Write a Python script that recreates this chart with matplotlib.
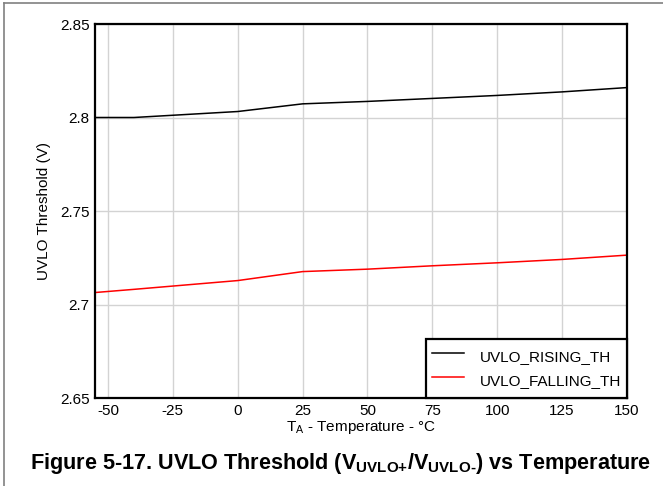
import matplotlib

matplotlib.use("Agg")

import matplotlib.pyplot as plt
from matplotlib.lines import Line2D

plt.rcParams["font.family"] = ["Liberation Sans", "DejaVu Sans"]
plt.rcParams["axes.unicode_minus"] = False
plt.rcParams["mathtext.fontset"] = "custom"
plt.rcParams["mathtext.rm"] = "Liberation Sans:bold"
plt.rcParams["mathtext.sf"] = "Liberation Sans"
plt.rcParams["mathtext.bf"] = "Liberation Sans:bold"

# temperature points (°C) and UVLO thresholds (V)
temps = [-55, -40, 0, 25, 50, 75, 100, 125, 150]
rising_th = [2.800, 2.800, 2.8032, 2.8073, 2.8086, 2.8102, 2.8118, 2.8137, 2.8160]
falling_th = [2.7064, 2.7081, 2.7128, 2.7176, 2.7189, 2.7207, 2.7223, 2.7241, 2.7264]

x_ticks = [-50, -25, 0, 25, 50, 75, 100, 125, 150]
y_ticks = [2.65, 2.7, 2.75, 2.8, 2.85]
y_tick_labels = ["2.65", "2.7", "2.75", "2.8", "2.85"]

fig = plt.figure(figsize=(6.63, 4.86), dpi=100)
ax = fig.add_axes([95 / 663, 1 - 398 / 486, (627 - 95) / 663, (398 - 24) / 486])

ax.plot(temps, rising_th, color="black", lw=1.1, label="UVLO_RISING_TH")
ax.plot(temps, falling_th, color="#ff0000", lw=1.1, label="UVLO_FALLING_TH")

ax.set_xlim(-55, 150)
ax.set_ylim(2.65, 2.85)
ax.set_xticks(x_ticks)
ax.set_yticks(y_ticks)
ax.set_yticklabels(y_tick_labels)
ax.tick_params(length=0, labelsize=11, pad=4)
ax.grid(True, color="#d3d3d3", lw=1.0)
ax.set_axisbelow(True)
for spine in ax.spines.values():
    spine.set_linewidth(1.6)
    spine.set_color("black")

ax.set_ylabel("UVLO Threshold (V)", fontsize=11, labelpad=6)
ax.set_xlabel(r"T$_{\mathsf{A}}$ - Temperature - °C", fontsize=11, labelpad=1)

leg = ax.legend(loc="lower right", borderaxespad=0, fancybox=False,
                framealpha=1, edgecolor="black", fontsize=11,
                handlelength=2.1, handleheight=2.0, handletextpad=1.0,
                labelspacing=0.0, borderpad=0.4)
leg.get_frame().set_linewidth(1.6)

fig.text(341 / 663, 1 - 463 / 486,
         r"Figure 5-17. UVLO Threshold (V$_{\text{UVLO+}}$/V$_{\text{UVLO-}}$) vs Temperature",
         ha="center", va="center", fontsize=15.6, fontweight="bold")

# page frame (top and left edges)
fig.add_artist(Line2D([4 / 663, 4 / 663], [0, 1 - 3 / 486], transform=fig.transFigure,
                      color="#808080", lw=1.2))
fig.add_artist(Line2D([4 / 663, 1], [1 - 3 / 486, 1 - 3 / 486], transform=fig.transFigure,
                      color="#808080", lw=1.2))

fig.savefig("out.png", dpi=100)
